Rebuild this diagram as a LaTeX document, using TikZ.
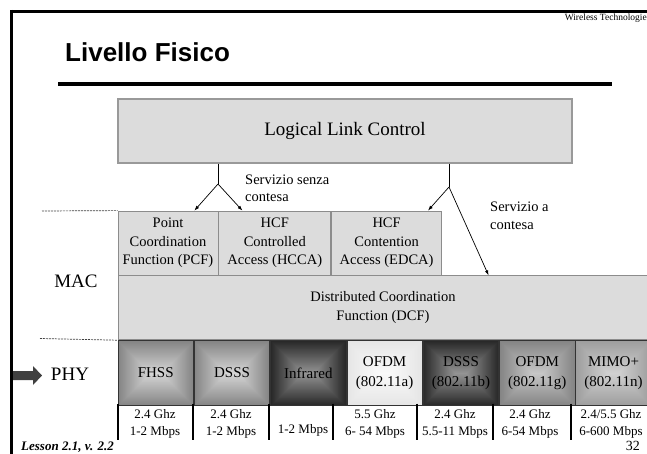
\documentclass[tikz,border=0pt]{standalone}
\usepackage{fontspec}
\setmainfont{Liberation Serif}
\newfontfamily\headfont{Liberation Sans}
\usetikzlibrary{arrows.meta,calc,positioning}

\definecolor{macfill}{HTML}{DCDCDC}
\definecolor{macline}{HTML}{8C8C8C}
\definecolor{midout}{gray}{0.52}
\definecolor{midin}{gray}{0.84}
\definecolor{darkout}{gray}{0.16}
\definecolor{darkin}{gray}{0.58}
\definecolor{paleout}{gray}{0.90}
\definecolor{palein}{gray}{0.98}
\definecolor{gout}{gray}{0.52}
\definecolor{gin}{gray}{0.78}
\definecolor{mimoout}{gray}{0.62}
\definecolor{mimoin}{gray}{0.82}

\newcommand\macfont{\fontsize{14.5}{18.5}\selectfont}
\newcommand\phyfont{\fontsize{15}{20}\selectfont}
\newcommand\ratefont{\fontsize{13}{17}\selectfont}

\tikzset{
  macbox/.style={draw=macline, fill=macfill, line width=0.8pt, inner sep=0pt,
    align=center, font=\macfont},
  phybox/.style={draw=black!80, line width=0.8pt, inner sep=0pt, align=center,
    minimum width=75.5pt, minimum height=65pt, font=\phyfont},
  pillow/.style 2 args={path picture={
    \foreach \i [evaluate=\i as \p using int(100*\i/32)] in {0,...,32}
      \fill[#2!\p!#1] ($(path picture bounding box.north west)+(\i,\i)$)
        rectangle ($(path picture bounding box.south east)+(-\i,-\i)$);
  }},
  conn/.style={-{Latex[length=5pt,width=3.5pt]}, line width=0.7pt},
  layersep/.style={draw=black!75, line width=0.7pt, dash pattern=on 2pt off 1pt},
  ratesep/.style={line width=1.6pt},
  rate/.style={align=center, font=\ratefont, inner sep=0pt}
}

\begin{document}
\begin{tikzpicture}[x=1pt, y=-1pt]
  \useasboundingbox (0,0) rectangle (647,454);

  % slide frame and heading
  \draw[line width=2.5pt] (10,11.5) -- (647,11.5);
  \draw[line width=2.5pt] (11.5,10) -- (11.5,454);
  \node[anchor=base east, inner sep=0pt, font=\fontsize{9.5}{11}\selectfont]
    (topic) at (647,21) {Wireless Technologie};
  \node[anchor=base west, inner sep=0pt] (title) at (65,62)
    {\headfont\bfseries\fontsize{26}{30}\selectfont Livello Fisico};
  \draw[line width=4pt] (58,84) -- (612,84);

  % LLC
  \node[macbox, draw=black!40, line width=1.2pt, minimum width=454pt, minimum height=64pt,
    font=\fontsize{19}{22}\selectfont] (llc) at (345,131) {Logical Link Control};

  % MAC
  \node[macbox, minimum width=100pt, minimum height=64pt] (pcf) at (168,243)
    {Point\\Coordination\\Function (PCF)};
  \node[macbox, minimum width=112pt, minimum height=64pt, right=0pt of pcf] (hcca)
    {HCF\\Controlled\\Access (HCCA)};
  \node[macbox, minimum width=110pt, minimum height=64pt, right=0pt of hcca] (edca)
    {HCF\\Contention\\Access (EDCA)};
  \node[macbox, anchor=north west, minimum width=530pt, minimum height=64pt,
    font=\fontsize{14.5}{19}\selectfont] (dcf) at (pcf.south west)
    {Distributed Coordination\\Function (DCF)};

  % PHY
  \node[phybox, pillow={midout}{midin}, anchor=north west] (fhss) at (dcf.south west) {FHSS};
  \node[phybox, pillow={midout}{midin}, right=0pt of fhss] (dsss) {DSSS};
  \node[phybox, pillow={darkout}{darkin}, right=0pt of dsss] (ir) {Infrared};
  \node[phybox, pillow={paleout}{palein}, right=0pt of ir] (ofdma) {OFDM\\(802.11a)};
  \node[phybox, pillow={darkout}{darkin}, right=0pt of ofdma] (dsssb) {DSSS\\(802.11b)};
  \node[phybox, pillow={gout}{gin}, right=0pt of dsssb] (ofdmg) {OFDM\\(802.11g)};
  \node[phybox, pillow={mimoout}{mimoin}, right=0pt of ofdmg] (mimo) {MIMO+\\(802.11n)};

  % rates below
  \foreach \x in {118,193,269,333,417,493,571}
    \draw[ratesep] (\x,403.5) -- (\x,440);
  \node[rate] (rate1) at (155,424) {2.4 Ghz\\1-2 Mbps};
  \node[rate] (rate2) at (231,424) {2.4 Ghz\\1-2 Mbps};
  \node[rate, anchor=base] (rate3) at (303,433) {1-2 Mbps};
  \node[rate] (rate4) at (375,424) {5.5 Ghz\\6- 54 Mbps};
  \node[rate] (rate5) at (455,424) {2.4 Ghz\\5.5-11 Mbps};
  \node[rate] (rate6) at (530,424) {2.4 Ghz\\6-54 Mbps};
  \node[rate] (rate7) at (611,424) {2.4/5.5 Ghz\\6-600 Mbps};

  % layer labels
  \draw[layersep] (42,211) -- (pcf.north west);
  \draw[layersep] (40,338.5) -- (fhss.north west);
  \node[font=\fontsize{19}{22}\selectfont] (mac) at (76,281) {MAC};
  \node[font=\fontsize{19}{22}\selectfont] (phy) at (70,374) {PHY};
  \fill[black!75] (13,371) -- (33,371) -- (33,366) -- (42,375.5) -- (33,385)
    -- (33,380) -- (13,380) -- cycle;

  % services
  \coordinate (jl) at (218,184);
  \coordinate (jr) at (449,187);
  \draw[line width=0.7pt] (llc.south -| jl) -- (jl);
  \draw[conn] (jl) -- ($(pcf.north east)+(-24,0)$);
  \draw[conn] (jl) -- ($(hcca.north west)+(24,0)$);
  \draw[line width=0.7pt] (llc.south -| jr) -- (jr);
  \draw[conn] (jr) -- ($(edca.north east)+(-14,0)$);
  \draw[conn] (jr) -- ($(dcf.north west)+(371,0)$);
  \node[anchor=north west, align=left, inner sep=0pt, font=\fontsize{14.5}{16.5}\selectfont]
    (nocont) at (245,175) {Servizio senza\\contesa};
  \node[anchor=north west, align=left, inner sep=0pt, font=\fontsize{14.5}{18}\selectfont]
    (cont) at (490,202) {Servizio a\\contesa};

  % footer
  \node[anchor=base west, inner sep=0pt, font=\fontsize{13}{15}\selectfont\bfseries\itshape]
    (lesson) at (21,450) {Lesson 2.1, v. 2.2};
  \node[anchor=base east, inner sep=0pt, font=\fontsize{14}{16}\selectfont]
    (page) at (640,450) {32};
\end{tikzpicture}
\end{document}
